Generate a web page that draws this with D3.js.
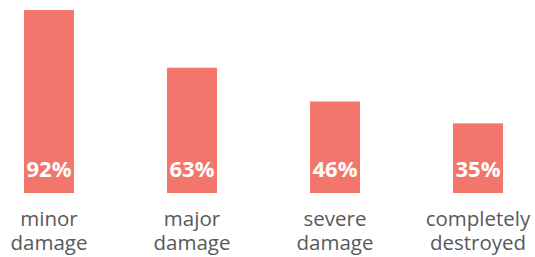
<!DOCTYPE html>
<html lang="en">
<head>
  <meta charset="UTF-8">
  <title>Damage</title>
  <script src="https://d3js.org/d3.v7.min.js"></script>
  <style>
    body { margin: 0; background: #fff; }
    text { font-family: "Open Sans", sans-serif; }
  </style>
</head>
<body>
  <div id="chart"></div>
  <script>
    // data
    var categories = ["minor damage", "major damage", "severe damage", "completely destroyed"];
    var catLines = [["minor", "damage"], ["major", "damage"], ["severe", "damage"], ["completely", "destroyed"]];
    var values = [92, 63, 46, 35];

    var W = 535, H = 257;
    var svg = d3.select("#chart").append("svg")
      .attr("width", W).attr("height", H);

    // band scale: step 143, bar width 50
    var x = d3.scaleBand()
      .domain(categories)
      .range([-22.5, 549.5])
      .paddingInner(0.65)
      .paddingOuter(0.325);

    var y = d3.scaleLinear()
      .domain([0, 92])
      .range([193, 10]);

    // bars
    svg.selectAll("rect.bar")
      .data(values)
      .enter()
      .append("rect")
      .attr("class", "bar")
      .attr("x", function(d, i) { return x(categories[i]); })
      .attr("y", function(d) { return y(d); })
      .attr("width", x.bandwidth())
      .attr("height", function(d) { return y(0) - y(d); })
      .style("fill", "#f3766c");

    // value labels inside the bars
    svg.selectAll("text.val")
      .data(values)
      .enter()
      .append("text")
      .attr("class", "val")
      .attr("x", function(d, i) { return x(categories[i]) + x.bandwidth() / 2; })
      .attr("y", y(0) - 16)
      .attr("text-anchor", "middle")
      .style("font-size", "22px")
      .style("font-weight", "bold")
      .style("fill", "#fff")
      .text(function(d) { return d + "%"; });

    // category labels, two lines each
    var lab = svg.selectAll("text.cat")
      .data(catLines)
      .enter()
      .append("text")
      .attr("class", "cat")
      .attr("text-anchor", "middle")
      .style("font-size", "20.5px")
      .style("fill", "#595959");

    lab.selectAll("tspan")
      .data(function(d, i) { return d.map(function(s) { return { s: s, i: i }; }); })
      .enter()
      .append("tspan")
      .attr("x", function(d) { return x(categories[d.i]) + x.bandwidth() / 2; })
      .attr("y", function(d, j) { return 226 + j * 24; })
      .text(function(d) { return d.s; });
  </script>
</body>
</html>
